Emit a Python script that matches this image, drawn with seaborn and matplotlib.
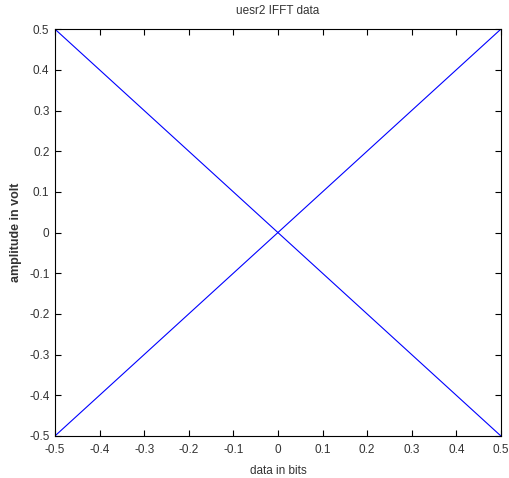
import pandas as pd
import matplotlib
matplotlib.use("Agg")
import matplotlib.pyplot as plt
import seaborn as sns

# data
x_vals = [-0.5, 0.5]
user1 = [0.5, -0.5]
user2 = [-0.5, 0.5]
ticks = [-0.5, -0.4, -0.3, -0.2, -0.1, 0, 0.1, 0.2, 0.3, 0.4, 0.5]
tick_labels = ['-0.5', '-0.4', '-0.3', '-0.2', '-0.1', '0', '0.1', '0.2', '0.3', '0.4', '0.5']

df = pd.concat([
    pd.DataFrame({'x': x_vals, 'y': user1, 'series': 'a'}),
    pd.DataFrame({'x': x_vals, 'y': user2, 'series': 'b'}),
])

sns.set_style('white')
plt.rcParams['font.family'] = ['Liberation Sans', 'DejaVu Sans']

fig = plt.figure(figsize=(5.09, 4.78), dpi=100)
ax = fig.add_axes([0.108, 0.088, 0.876, 0.851])

sns.lineplot(data=df, x='x', y='y', units='series', estimator=None,
             color='#0000ff', linewidth=0.8, ax=ax)

ax.set_xlim(-0.5, 0.5)
ax.set_ylim(-0.5, 0.5)
ax.set_xticks(ticks)
ax.set_xticklabels(tick_labels)
ax.set_yticks(ticks)
ax.set_yticklabels(tick_labels)
ax.tick_params(direction='in', length=4.5, width=0.8, labelsize=8.5, colors='black',
               labelcolor='#333333', top=True, right=True, bottom=True, left=True, pad=4)
ax.tick_params(axis='x', pad=6)
for side in ax.spines.values():
    side.set_visible(True)
    side.set_color('black')
    side.set_linewidth(0.8)

ax.set_title('uesr2 IFFT data', fontsize=8.5, pad=11, color='#333333')
ax.set_xlabel('data in bits', fontsize=8.5, labelpad=6, color='#333333')
ax.set_ylabel('amplitude in volt', fontsize=9, fontweight='bold', labelpad=5, color='#333333')

fig.savefig('out.png', dpi=100)
